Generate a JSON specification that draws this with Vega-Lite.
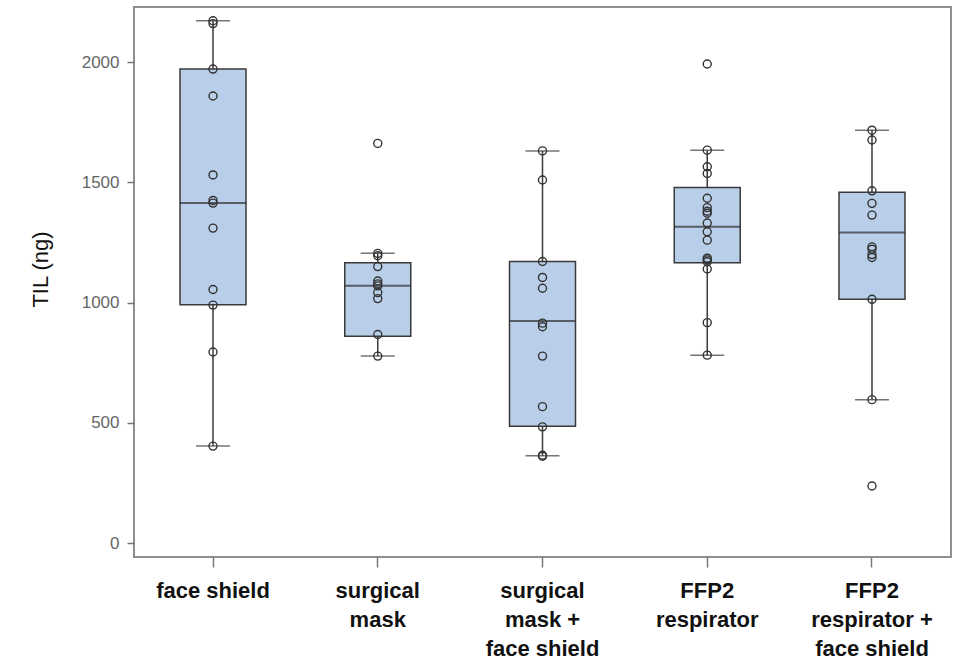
{
  "$schema": "https://vega.github.io/schema/vega-lite/v6.json",
  "width": 817,
  "height": 550,
  "autosize": {"type": "none"},
  "padding": {"left": 134, "top": 7, "right": 5, "bottom": 103},
  "background": "white",
  "config": {
    "view": {"stroke": "#8f8f8f", "strokeWidth": 2},
    "font": "Liberation Sans",
    "axis": {"domain": false, "grid": false}
  },
  "datasets": {
    "points": [
      {"group": "face shield", "value": 2172},
      {"group": "face shield", "value": 2160},
      {"group": "face shield", "value": 1971},
      {"group": "face shield", "value": 1859},
      {"group": "face shield", "value": 1531},
      {"group": "face shield", "value": 1425},
      {"group": "face shield", "value": 1414},
      {"group": "face shield", "value": 1310},
      {"group": "face shield", "value": 1055},
      {"group": "face shield", "value": 990},
      {"group": "face shield", "value": 795},
      {"group": "face shield", "value": 404},
      {"group": "surgical mask", "value": 1662},
      {"group": "surgical mask", "value": 1205},
      {"group": "surgical mask", "value": 1195},
      {"group": "surgical mask", "value": 1150},
      {"group": "surgical mask", "value": 1090},
      {"group": "surgical mask", "value": 1078},
      {"group": "surgical mask", "value": 1070},
      {"group": "surgical mask", "value": 1042},
      {"group": "surgical mask", "value": 1017},
      {"group": "surgical mask", "value": 868},
      {"group": "surgical mask", "value": 778},
      {"group": "surgical mask + face shield", "value": 1631},
      {"group": "surgical mask + face shield", "value": 1510},
      {"group": "surgical mask + face shield", "value": 1171},
      {"group": "surgical mask + face shield", "value": 1105},
      {"group": "surgical mask + face shield", "value": 1060},
      {"group": "surgical mask + face shield", "value": 915},
      {"group": "surgical mask + face shield", "value": 900},
      {"group": "surgical mask + face shield", "value": 778},
      {"group": "surgical mask + face shield", "value": 568},
      {"group": "surgical mask + face shield", "value": 484},
      {"group": "surgical mask + face shield", "value": 366},
      {"group": "surgical mask + face shield", "value": 362},
      {"group": "FFP2 respirator", "value": 1992},
      {"group": "FFP2 respirator", "value": 1634},
      {"group": "FFP2 respirator", "value": 1565},
      {"group": "FFP2 respirator", "value": 1537},
      {"group": "FFP2 respirator", "value": 1434},
      {"group": "FFP2 respirator", "value": 1395},
      {"group": "FFP2 respirator", "value": 1380},
      {"group": "FFP2 respirator", "value": 1372},
      {"group": "FFP2 respirator", "value": 1331},
      {"group": "FFP2 respirator", "value": 1295},
      {"group": "FFP2 respirator", "value": 1260},
      {"group": "FFP2 respirator", "value": 1185},
      {"group": "FFP2 respirator", "value": 1178},
      {"group": "FFP2 respirator", "value": 1170},
      {"group": "FFP2 respirator", "value": 1140},
      {"group": "FFP2 respirator", "value": 917},
      {"group": "FFP2 respirator", "value": 782},
      {"group": "FFP2 respirator + face shield", "value": 1717},
      {"group": "FFP2 respirator + face shield", "value": 1676},
      {"group": "FFP2 respirator + face shield", "value": 1465},
      {"group": "FFP2 respirator + face shield", "value": 1413},
      {"group": "FFP2 respirator + face shield", "value": 1364},
      {"group": "FFP2 respirator + face shield", "value": 1232},
      {"group": "FFP2 respirator + face shield", "value": 1222},
      {"group": "FFP2 respirator + face shield", "value": 1200},
      {"group": "FFP2 respirator + face shield", "value": 1188},
      {"group": "FFP2 respirator + face shield", "value": 1014},
      {"group": "FFP2 respirator + face shield", "value": 597},
      {"group": "FFP2 respirator + face shield", "value": 238}
    ],
    "stats": [
      {"group": "face shield", "min": 404, "q1": 991, "median": 1414, "q3": 1971, "max": 2172},
      {"group": "surgical mask", "min": 778, "q1": 861, "median": 1070, "q3": 1166, "max": 1205},
      {"group": "surgical mask + face shield", "min": 364, "q1": 486, "median": 924, "q3": 1171, "max": 1631},
      {"group": "FFP2 respirator", "min": 782, "q1": 1166, "median": 1316, "q3": 1479, "max": 1634},
      {"group": "FFP2 respirator + face shield", "min": 597, "q1": 1014, "median": 1292, "q3": 1459, "max": 1717}
    ]
  },
  "encoding": {
    "x": {
      "field": "group",
      "type": "nominal",
      "sort": ["face shield", "surgical mask", "surgical mask + face shield", "FFP2 respirator", "FFP2 respirator + face shield"],
      "scale": {"paddingInner": 0.5994, "paddingOuter": 0.2793},
      "axis": {
        "title": null,
        "labelAngle": 0,
        "labelExpr": "{'face shield': ['face shield'], 'surgical mask': ['surgical', 'mask'], 'surgical mask + face shield': ['surgical', 'mask +', 'face shield'], 'FFP2 respirator': ['FFP2', 'respirator'], 'FFP2 respirator + face shield': ['FFP2', 'respirator +', 'face shield']}[datum.label]",
        "labelFontSize": 22,
        "labelFontWeight": "bold",
        "labelColor": "#111111",
        "labelLineHeight": 29,
        "labelPadding": 13,
        "tickSize": 10,
        "tickColor": "#777777",
        "tickWidth": 1.5
      }
    }
  },
  "layer": [
    {
      "data": {"name": "stats"},
      "mark": {"type": "rule", "color": "#3a3a3a", "strokeWidth": 1.5},
      "encoding": {
        "y": {
          "field": "min",
          "type": "quantitative",
          "scale": {"domain": [-57, 2229], "nice": false, "zero": false},
          "axis": {
            "title": "TIL (ng)",
            "titleFontSize": 22,
            "titleFontWeight": "normal",
            "titleColor": "#111111",
            "titleX": -94,
            "titleY": 262,
            "titleAngle": -90,
            "titleAlign": "center",
            "titleBaseline": "middle",
            "values": [0, 500, 1000, 1500, 2000],
            "format": "d",
            "labelFontSize": 17,
            "labelColor": "#666666",
            "labelPadding": 8,
            "tickSize": 7,
            "tickColor": "#777777",
            "tickWidth": 1.5
          }
        },
        "y2": {"field": "max"}
      }
    },
    {
      "data": {"name": "stats"},
      "mark": {"type": "bar", "fill": "#b9cee8", "stroke": "#3a3a3a", "strokeWidth": 1.5},
      "encoding": {
        "y": {"field": "q1", "type": "quantitative"},
        "y2": {"field": "q3"}
      }
    },
    {
      "data": {"name": "stats"},
      "mark": {"type": "tick", "color": "#2e2e2e", "size": 66, "thickness": 2},
      "encoding": {
        "y": {"field": "median", "type": "quantitative"}
      }
    },
    {
      "data": {"name": "stats"},
      "mark": {"type": "tick", "color": "#3a3a3a", "size": 34, "thickness": 1.5},
      "encoding": {
        "y": {"field": "min", "type": "quantitative"}
      }
    },
    {
      "data": {"name": "stats"},
      "mark": {"type": "tick", "color": "#3a3a3a", "size": 34, "thickness": 1.5},
      "encoding": {
        "y": {"field": "max", "type": "quantitative"}
      }
    },
    {
      "data": {"name": "points"},
      "mark": {"type": "point", "shape": "circle", "filled": false, "stroke": "#333333", "strokeWidth": 1.4, "size": 64, "opacity": 1},
      "encoding": {
        "y": {"field": "value", "type": "quantitative"}
      }
    }
  ]
}
